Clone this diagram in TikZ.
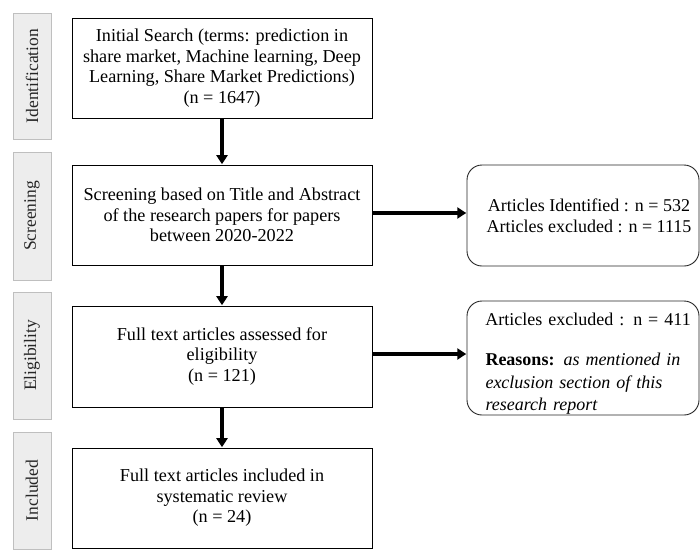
\documentclass[tikz,border=0pt]{standalone}
\usepackage{fontspec}
\setmainfont{Liberation Serif}
\usetikzlibrary{arrows.meta}
\begin{document}
\begin{tikzpicture}[x=1pt,y=-1pt,
  mainbox/.style={draw=black, line width=1pt, minimum width=300pt, align=center,
    font=\fontsize{18.2}{20.5}\selectfont, inner sep=0pt},
  rbox/.style={draw=black!85, line width=0.9pt, rounded corners=15pt, minimum width=232pt,
    font=\fontsize{18}{22.5}\selectfont, inner sep=0pt},
  stagebox/.style={draw=black!25, fill=black!7, line width=0.8pt, rotate=90, minimum height=38pt,
    font=\fontsize{17.5}{20}\selectfont, text=black!85, inner sep=0pt},
  arr/.style={line width=3.2pt, -{Triangle[length=9pt,width=11pt]}, shorten >=0.3pt}
]
\useasboundingbox (0,0) rectangle (700,549);
% stage labels
\node[stagebox, minimum width=126pt] (s1) at (32,76) {Identification};
\node[stagebox, minimum width=128pt] (s2) at (32,216) {Screening};
\node[stagebox, minimum width=127pt] (s3) at (32,355.5) {Eligibility};
\node[stagebox, minimum width=117pt] (s4) at (32,490.5) {Included};
% main boxes
\node[mainbox, minimum height=100pt] (b1) at (222,68) {Initial Search (terms: prediction in\\share market, Machine learning, Deep\\Learning, Share Market Predictions)\\(n = 1647)};
\node[mainbox, minimum height=100pt] (b2) at (222,215) {Screening based on Title and Abstract\\of the research papers for papers\\between 2020-2022};
\node[mainbox, minimum height=101pt] (b3) at (222,356.5) {Full text articles assessed for\\eligibility\\(n = 121)};
\node[mainbox, minimum height=100pt] (b4) at (222,498) {Full text articles included in\\systematic review\\(n = 24)};
% right boxes
\node[rbox, minimum height=101pt, align=center, font=\fontsize{18}{21}\selectfont] (ra) at (583,215.5) {\hspace*{12pt}Articles Identified : n = 532\\\hspace*{12pt}Articles excluded : n = 1115};
\node[rbox, minimum height=114pt, text width=195pt, align=left] (rb) at (583,358) {\rule{0pt}{24pt}\makebox[195pt][c]{\hspace*{10pt}Articles excluded : n = 411}\\[18pt]\textbf{Reasons:} \textit{as mentioned in}\\\textit{exclusion section of this}\\\textit{research report}};
% connectors
\draw[arr] (b1) -- (b2);
\draw[arr] (b2) -- (b3);
\draw[arr] (b3) -- (b4);
\draw[arr] ([yshift=2pt]b2.east) -- ([yshift=2pt]b2.east -| ra.west);
\draw[arr] ([yshift=2.5pt]b3.east) -- ([yshift=2.5pt]b3.east -| rb.west);
\end{tikzpicture}
\end{document}
